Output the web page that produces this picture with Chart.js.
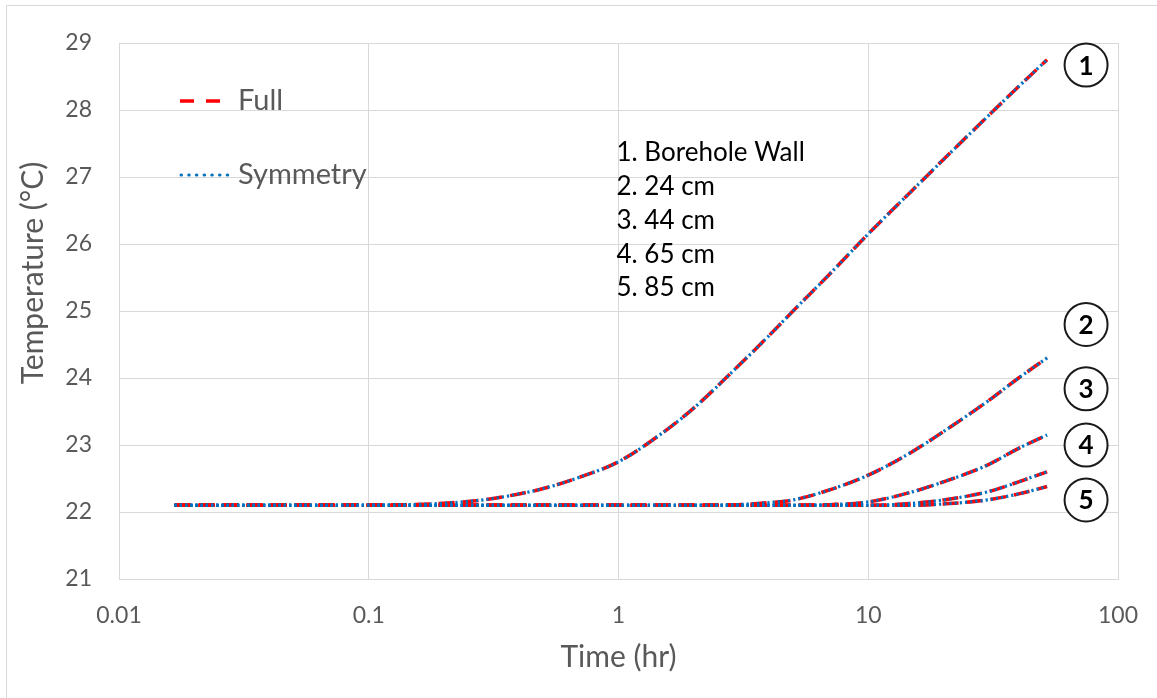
<!DOCTYPE html>
<html>
<head>
<meta charset="utf-8">
<script src="https://cdn.jsdelivr.net/npm/chart.js@4/dist/chart.umd.min.js"></script>
<style>
  html, body { margin: 0; padding: 0; background: #fff; }
  #wrap { position: relative; width: 1157px; height: 698px; }
  #frame { position: absolute; left: 6px; top: 5px; width: 1160px; height: 710px;
           border-left: 1px solid #d9d9d9; border-top: 1px solid #d9d9d9; pointer-events: none; }
  canvas { position: absolute; left: 0; top: 0; }
</style>
</head>
<body>
<div id="wrap">
  <canvas id="chart" width="1157" height="698"></canvas>
  <div id="frame"></div>
</div>
<script>
// time in hours
const times = [0.0167, 0.05, 0.1, 0.15, 0.2, 0.3, 0.4, 0.5, 0.7, 1, 1.5, 2, 3, 4, 5, 7, 10, 15, 20, 30, 40, 52];

// temperatures (°C) - full model
const wall = [22.1, 22.1, 22.1, 22.11, 22.13, 22.19, 22.27, 22.35, 22.52, 22.75, 23.18, 23.55, 24.17, 24.63, 25.0, 25.55, 26.15, 26.8, 27.26, 27.9, 28.35, 28.75];
const at24 = [22.1, 22.1, 22.1, 22.1, 22.1, 22.1, 22.1, 22.1, 22.1, 22.1, 22.1, 22.1, 22.11, 22.14, 22.18, 22.33, 22.55, 22.9, 23.2, 23.65, 24.0, 24.3];
const at44 = [22.1, 22.1, 22.1, 22.1, 22.1, 22.1, 22.1, 22.1, 22.1, 22.1, 22.1, 22.1, 22.1, 22.1, 22.1, 22.11, 22.15, 22.3, 22.45, 22.7, 22.95, 23.15];
const at65 = [22.1, 22.1, 22.1, 22.1, 22.1, 22.1, 22.1, 22.1, 22.1, 22.1, 22.1, 22.1, 22.1, 22.1, 22.1, 22.1, 22.1, 22.13, 22.18, 22.3, 22.45, 22.6];
const at85 = [22.1, 22.1, 22.1, 22.1, 22.1, 22.1, 22.1, 22.1, 22.1, 22.1, 22.1, 22.1, 22.1, 22.1, 22.1, 22.1, 22.1, 22.1, 22.12, 22.18, 22.27, 22.38];

// symmetry model overlaps the full model
const fullSeries = [wall, at24, at44, at65, at85];
const symSeries = [wall, at24, at44, at65, at85];

const xTicks = [0.01, 0.1, 1, 10, 100];
const xTickLabels = ['0.01', '0.1', '1', '10', '100'];

const noteLines = ['1. Borehole Wall', '2. 24 cm', '3. 44 cm', '4. 65 cm', '5. 85 cm'];
const circleNums = ['1', '2', '3', '4', '5'];
const circleY = [28.67, 24.8, 23.84, 23.0, 22.18];
const circleX = 74.5;

const FONT = 'Lato, "Open Sans", sans-serif';
const GREY = '#595959';
const RED = '#ff0000';
const BLUE = '#0070c0';

const toPoints = (arr) => arr.map((v, i) => ({ x: times[i], y: v }));

// higher order is drawn underneath, so the dotted blue sits on the red dashes
const datasets = [];
fullSeries.forEach((s) => datasets.push({
  label: 'Full', data: toPoints(s), borderColor: RED, borderWidth: 3.5, order: 2,
  borderDash: [16, 8], pointRadius: 0, fill: false, cubicInterpolationMode: 'monotone'
}));
symSeries.forEach((s) => datasets.push({
  label: 'Symmetry', data: toPoints(s), borderColor: BLUE, borderWidth: 3.2, order: 1,
  borderDash: [2.2, 3], pointRadius: 0, fill: false, cubicInterpolationMode: 'monotone'
}));

// legend, y title, notes and circled numbers
const annotations = {
  id: 'annotations',
  afterDraw(chart) {
    const { ctx, scales: { x, y } } = chart;
    ctx.save();

    // legend
    ctx.lineWidth = 3.5;
    ctx.strokeStyle = RED;
    ctx.setLineDash([14, 12]);
    ctx.beginPath(); ctx.moveTo(180, 101); ctx.lineTo(222, 101); ctx.stroke();
    ctx.lineWidth = 3;
    ctx.strokeStyle = BLUE;
    ctx.lineCap = 'round';
    ctx.setLineDash([0.5, 7.2]);
    ctx.beginPath(); ctx.moveTo(181, 175); ctx.lineTo(229, 175); ctx.stroke();
    ctx.setLineDash([]);
    ctx.lineCap = 'butt';
    ctx.fillStyle = GREY;
    ctx.font = '29px ' + FONT;
    ctx.textBaseline = 'middle';
    ctx.textAlign = 'left';
    ctx.fillText('Full', 238, 101);
    ctx.fillText('Symmetry', 238, 175);

    // y axis title
    ctx.save();
    ctx.translate(33, 273);
    ctx.rotate(-Math.PI / 2);
    ctx.textAlign = 'center';
    ctx.font = '30px ' + FONT;
    ctx.fillText('Temperature (°C)', 0, 0);
    ctx.restore();

    // notes
    ctx.fillStyle = '#000';
    ctx.font = '26px ' + FONT;
    const nx = x.getPixelForValue(1) - 2;
    noteLines.forEach((t, i) => ctx.fillText(t, nx, 153 + i * 33.75));

    // circled numbers
    ctx.font = 'bold 26px ' + FONT;
    ctx.textAlign = 'center';
    ctx.lineWidth = 2;
    ctx.strokeStyle = '#1a1a1a';
    circleNums.forEach((n, i) => {
      const cx = x.getPixelForValue(circleX);
      const cy = y.getPixelForValue(circleY[i]);
      ctx.fillStyle = '#fff';
      ctx.beginPath(); ctx.arc(cx, cy, 21.5, 0, Math.PI * 2); ctx.fill(); ctx.stroke();
      ctx.fillStyle = '#000';
      ctx.fillText(n, cx, cy + 1);
    });
    ctx.restore();
  }
};

new Chart(document.getElementById('chart'), {
  type: 'line',
  data: { datasets },
  plugins: [annotations],
  options: {
    responsive: false,
    animation: false,
    layout: { padding: { left: 0, top: 43, right: 39, bottom: 0 } },
    plugins: { legend: { display: false }, tooltip: { enabled: false } },
    scales: {
      x: {
        type: 'logarithmic', min: 0.01, max: 100,
        afterBuildTicks: (scale) => { scale.ticks = xTicks.map((v) => ({ value: v })); },
        afterFit: (scale) => {
          scale.height = 119;
          scale.paddingLeft = 0;
          scale.paddingRight = 0;
        },
        ticks: {
          callback: (v) => xTickLabels[xTicks.indexOf(v)] ?? '',
          color: GREY, font: { family: FONT, size: 23 }, padding: 23, maxRotation: 0
        },
        grid: { color: '#d9d9d9', lineWidth: 1, drawTicks: false },
        border: { color: '#d9d9d9' },
        title: { display: true, text: 'Time (hr)', color: GREY,
                 font: { family: FONT, size: 30 }, padding: { top: 0, bottom: 23 } }
      },
      y: {
        min: 21, max: 29,
        afterFit: (scale) => {
          scale.width = 119;
          scale.paddingTop = 0;
          scale.paddingBottom = 0;
        },
        ticks: { stepSize: 1, color: GREY, font: { family: FONT, size: 23 }, padding: 27 },
        grid: { color: '#d9d9d9', lineWidth: 1, drawTicks: false },
        border: { color: '#d9d9d9' }
      }
    }
  }
});
</script>
</body>
</html>
